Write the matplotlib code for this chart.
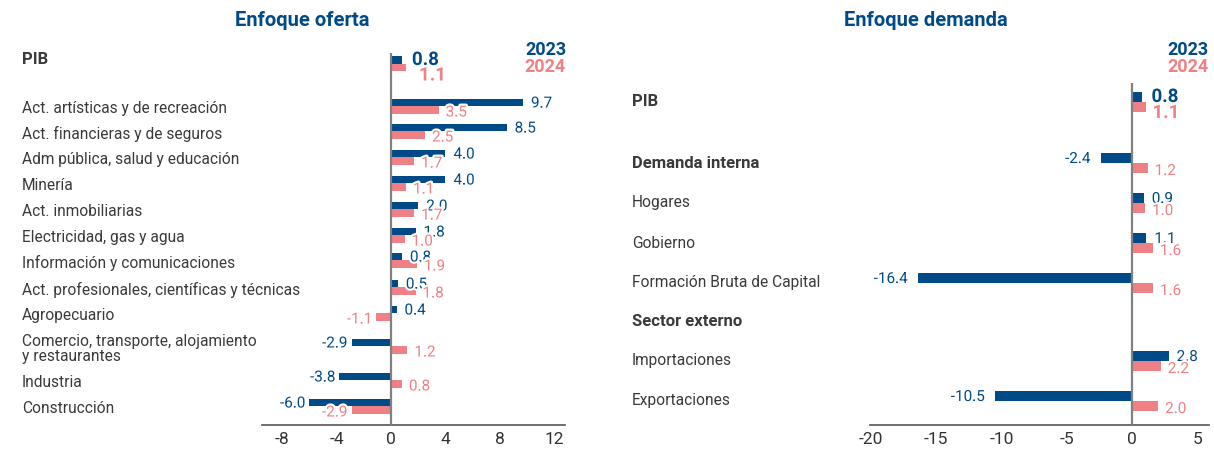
import numpy as np
import matplotlib
matplotlib.use("Agg")
import matplotlib.pyplot as plt
from matplotlib import font_manager
from matplotlib.transforms import blended_transform_factory
import matplotlib.patheffects as pe

# ---------------- data ----------------
oferta_cats = ["PIB", "Act. artísticas y de recreación", "Act. financieras y de seguros",
               "Adm pública, salud y educación", "Minería", "Act. inmobiliarias",
               "Electricidad, gas y agua", "Información y comunicaciones",
               "Act. profesionales, científicas y técnicas", "Agropecuario",
               "Comercio, transporte, alojamiento\ny restaurantes", "Industria", "Construcción"]
oferta_2023 = [0.8, 9.7, 8.5, 4.0, 4.0, 2.0, 1.8, 0.8, 0.5, 0.4, -2.9, -3.8, -6.0]
oferta_2024 = [1.1, 3.5, 2.5, 1.7, 1.1, 1.7, 1.0, 1.9, 1.8, -1.1, 1.2, 0.8, -2.9]

demanda_cats = ["PIB", "Demanda interna", "Hogares", "Gobierno", "Formación Bruta de Capital",
                "Sector externo", "Importaciones", "Exportaciones"]
demanda_2023 = [0.8, -2.4, 0.9, 1.1, -16.4, None, 2.8, -10.5]
demanda_2024 = [1.1, 1.2, 1.0, 1.6, 1.6, None, 2.2, 2.0]
demanda_bold = ["PIB", "Demanda interna", "Sector externo"]

oferta_ticks = [-8, -4, 0, 4, 8, 12]
demanda_ticks = [-20, -15, -10, -5, 0, 5]
years = ["2023", "2024"]

# ---------------- layout (pixel rows of labels) ----------------
W, H = 1214, 449
oferta_rows = [60, 109, 134, 160, 186, 212, 238, 263, 290, 316, 349, 383, 409]
demanda_rows = [102, 163, 203, 243, 283, 322, 361, 401]

BLUE = "#004b87"
PINK = "#ef8086"
TXT = "#3a3a3a"

avail = {f.name for f in font_manager.fontManager.ttflist}
FAM = "Liberation Sans Narrow" if "Liberation Sans Narrow" in avail else "Roboto"
plt.rcParams["font.family"] = [FAM, "DejaVu Sans"]
LAB = 11.2 if FAM == "Roboto" else 12.5

fig = plt.figure(figsize=(W / 100, H / 100), dpi=100)


def fx(x):
    return x / W


def fy(y):
    return 1 - y / H


def make_ax(x0, x1, ytop, xlim):
    ax = fig.add_axes([fx(x0), fy(425), fx(x1) - fx(x0), fy(ytop) - fy(425)])
    ax.set_xlim(*xlim)
    ax.set_ylim(425, ytop)
    for s in ["top", "right", "left"]:
        ax.spines[s].set_visible(False)
    ax.spines["bottom"].set_color("#555555")
    ax.spines["bottom"].set_linewidth(1.2)
    ax.set_yticks([])
    ax.axvline(0, color="#808080", lw=1.6, zorder=3)
    return ax


def value_label(ax, v, y, color, pos_off, neg_off, down, size, weight="normal"):
    if v is None:
        return
    if v >= 0:
        ha, off = "left", pos_off
    else:
        ha, off = "right", -neg_off
    ax.annotate(f"{v:.1f}", xy=(v, y), xytext=(off, -down), textcoords="offset pixels",
                ha=ha, va="center", color=color, fontsize=size, fontweight=weight,
                path_effects=[pe.withStroke(linewidth=3, foreground="white")], zorder=5)


def panel(ax, cats, rows, v23, v24, bh, bdy, pdy, bold, ticks, title, title_x, label_x,
          year_x, offs, pib):
    bpos, bneg, ppos, pneg, pdown = offs
    pib_bar_shift, pib_bpos, pib_ppos, pib_pdown = pib
    tr = blended_transform_factory(fig.transFigure, ax.transData)
    for i, (c, r) in enumerate(zip(cats, rows)):
        isb = c in bold
        ax.text(fx(label_x), r, c, transform=tr, ha="left", va="center",
                fontsize=LAB + 0.8 if isb else LAB, color=TXT,
                fontweight="bold" if isb else "normal", linespacing=1.0)
        a, b = v23[i], v24[i]
        shift = pib_bar_shift if c == "PIB" else 0
        yb, yp = r + bdy + shift, r + pdy + shift
        if a is not None:
            ax.barh(yb, a, height=bh, color=BLUE, zorder=2)
        if b is not None:
            ax.barh(yp, b, height=bh, color=PINK, zorder=2)
        if c == "PIB":
            value_label(ax, a, yb, BLUE, pib_bpos, bneg, 0, 13.5, "bold")
            value_label(ax, b, yp, PINK, pib_ppos, pneg, pib_pdown, 13.5, "bold")
        else:
            value_label(ax, a, yb, BLUE, bpos, bneg, 1, 11)
            value_label(ax, b, yp, PINK, ppos, pneg, pdown, 11)
    ax.set_xticks(ticks)
    ax.set_xticklabels([str(t) for t in ticks])
    ax.tick_params(axis="x", length=0, pad=5, labelsize=12.5, labelcolor="#333333")
    fig.text(fx(title_x), fy(20), title, ha="center", va="center", fontsize=14.5,
             fontweight="bold", color=BLUE)
    fig.text(fx(year_x), fy(50), years[0], ha="right", va="center", fontsize=13,
             fontweight="bold", color=BLUE)
    fig.text(fx(year_x), fy(67), years[1], ha="right", va="center", fontsize=13,
             fontweight="bold", color=PINK)


ax1 = make_ax(262, 565, 53, (-9.49, 12.79))
panel(ax1, oferta_cats, oferta_rows, oferta_2023, oferta_2024, 7.5, -6.5, 1.0, ["PIB"],
      oferta_ticks, "Enfoque oferta", 302, 22, 566, (8, 4, 7, 4, 2.5), (6.5, 10, 13, 8))

ax2 = make_ax(870, 1209, 83, (-20.05, 5.89))
panel(ax2, demanda_cats, demanda_rows, demanda_2023, demanda_2024, 10, -5, 5, demanda_bold,
      demanda_ticks, "Enfoque demanda", 926, 632, 1209, (8, 10, 7, 8, 3), (0, 9, 6, 6))

fig.savefig("out.png", dpi=100)
